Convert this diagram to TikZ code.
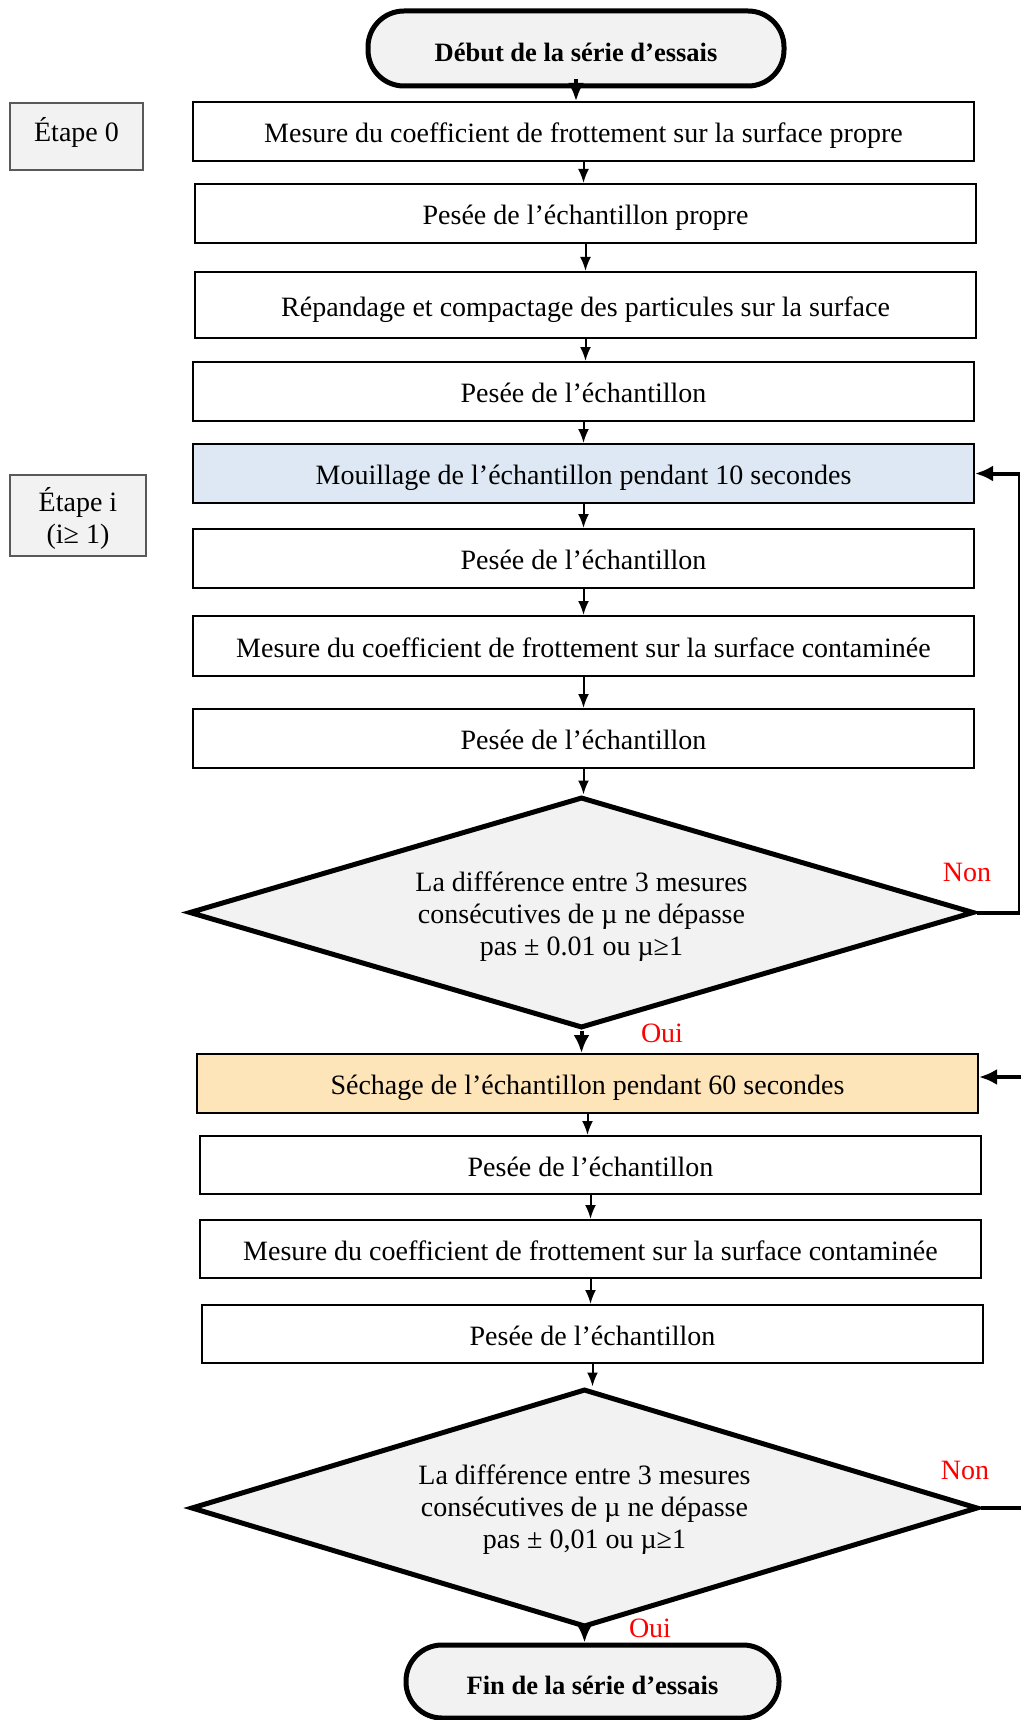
\documentclass[tikz,border=0pt]{standalone}
\usepackage{fontspec}
\setmainfont{Liberation Serif}
\usetikzlibrary{shapes.geometric, arrows.meta}
\definecolor{fondgris}{HTML}{F2F2F2}
\definecolor{fondbleu}{HTML}{DDE8F4}
\definecolor{fondorange}{HTML}{FDE4B9}

\begin{document}
\begin{tikzpicture}[x=1pt, y=-1pt,
    font=\fontsize{28}{32}\selectfont,
    boite/.style={draw, line width=2pt, minimum width=781pt, minimum height=59pt, inner sep=0pt, text height=28pt, text depth=6pt},
    etape/.style={draw=black!65, line width=1.2pt, fill=fondgris, inner sep=0pt, align=center},
    terminal/.style={draw, line width=5pt, fill=fondgris, rounded corners=36pt, text height=32pt, text depth=6pt, font=\fontsize{26.5}{32}\selectfont\bfseries},
    test/.style={diamond, draw, line width=5pt, fill=fondgris, minimum width=785pt, minimum height=231pt, inner sep=0pt, shape aspect=3.4, align=center},
    fleche/.style={line width=2pt, -{Latex[length=14pt, width=11pt]}},
    grosse/.style={line width=4pt, -{Latex[length=18pt, width=16pt]}},
    reponse/.style={text=red}]
                \useasboundingbox (0,0) rectangle (1020,1720);
                \node[terminal, minimum width=416pt, minimum height=75pt] (debut) at (576,48.5) {Début de la série d’essais};
                \node[etape, minimum width=133pt, minimum height=67pt, text height=24pt, text depth=13.5pt] (e0) at (76.5,136.5) {Étape 0};
                \node[boite] (m0) at (583.5,131.5) {Mesure du coefficient de frottement sur la surface propre};
                \node[boite] (p0) at (585.5,213.5) {Pesée de l’échantillon propre};
                \node[boite, minimum height=66pt] (compact) at (585.5,305) {Répandage et compactage des particules sur la surface};
                \node[boite] (p1) at (583.5,391.5) {Pesée de l’échantillon};
                \node[boite, fill=fondbleu] (mouil) at (583.5,473.5) {Mouillage de l’échantillon pendant 10 secondes};
                \node[etape, minimum width=136pt, minimum height=81pt, text depth=-1pt] (ei) at (78,515.5) {Étape i\\(i≥ 1)};
                \node[boite] (p2) at (583.5,558.5) {Pesée de l’échantillon};
                \node[boite, minimum height=60pt] (m1) at (583.5,646) {Mesure du coefficient de frottement sur la surface contaminée};
                \node[boite] (p3) at (583.5,738.5) {Pesée de l’échantillon};
                \node[test] (t1) at (581.5,912.5) {\rule{0pt}{28pt}La différence entre 3 mesures\\consécutives de µ ne dépasse\\pas ± 0.01 ou µ≥1};
                \node[boite, fill=fondorange] (sech) at (587.5,1083.5) {Séchage de l’échantillon pendant 60 secondes};
                \node[boite, minimum height=58pt] (p4) at (590.5,1165) {Pesée de l’échantillon};
                \node[boite, minimum height=58pt] (m2) at (590.5,1249) {Mesure du coefficient de frottement sur la surface contaminée};
                \node[boite, minimum height=58pt] (p5) at (592.5,1334) {Pesée de l’échantillon};
                \node[test, minimum width=787pt, minimum height=238pt] (t2) at (584.5,1508) {\rule{0pt}{23pt}La différence entre 3 mesures\\consécutives de µ ne dépasse\\pas ± 0,01 ou µ≥1};
                \node[terminal, minimum width=373pt, minimum height=73pt] (fin) at (592.5,1681.5) {Fin de la série d’essais};
                \node[reponse] (non1) at (967,872) {Non};
                \node[reponse] (oui1) at (662,1033) {Oui};
                \node[reponse] (non2) at (965,1470) {Non};
                \node[reponse] (oui2) at (650,1628) {Oui};
                \coordinate (coin1) at (1019,912.5);
                \coordinate (coin2) at (1019,473.5);
                \coordinate (bord1) at (1030,1077);
                \coordinate (bord2) at (1030,1508);
                \draw[grosse] ([yshift=9pt]debut.south) -- (debut.south |- m0.north);
                \foreach \a/\b in {m0/p0, p0/compact, compact/p1, p1/mouil, mouil/p2, p2/m1, m1/p3, p3/t1, sech/p4, p4/m2, m2/p5, p5/t2}
                    \draw[fleche] (\a.south) -- (\a.south |- \b.north);
                \draw[grosse] (t1.south) -- (t1.south |- sech.north);
                \draw[grosse] (t2.south) -- (t2.south |- fin.north);
                \draw[line width=4pt] (t1.east) -- (coin1);
                \draw[line width=2pt] ([yshift=-2pt]coin1) -- ([yshift=2pt]coin2);
                \draw[grosse] (coin2) -- (mouil.east);
                \draw[grosse] (bord1) -- (bord1 -| sech.east);
                \draw[line width=4pt] (t2.east) -- (bord2);
            \end{tikzpicture}
\end{document}
